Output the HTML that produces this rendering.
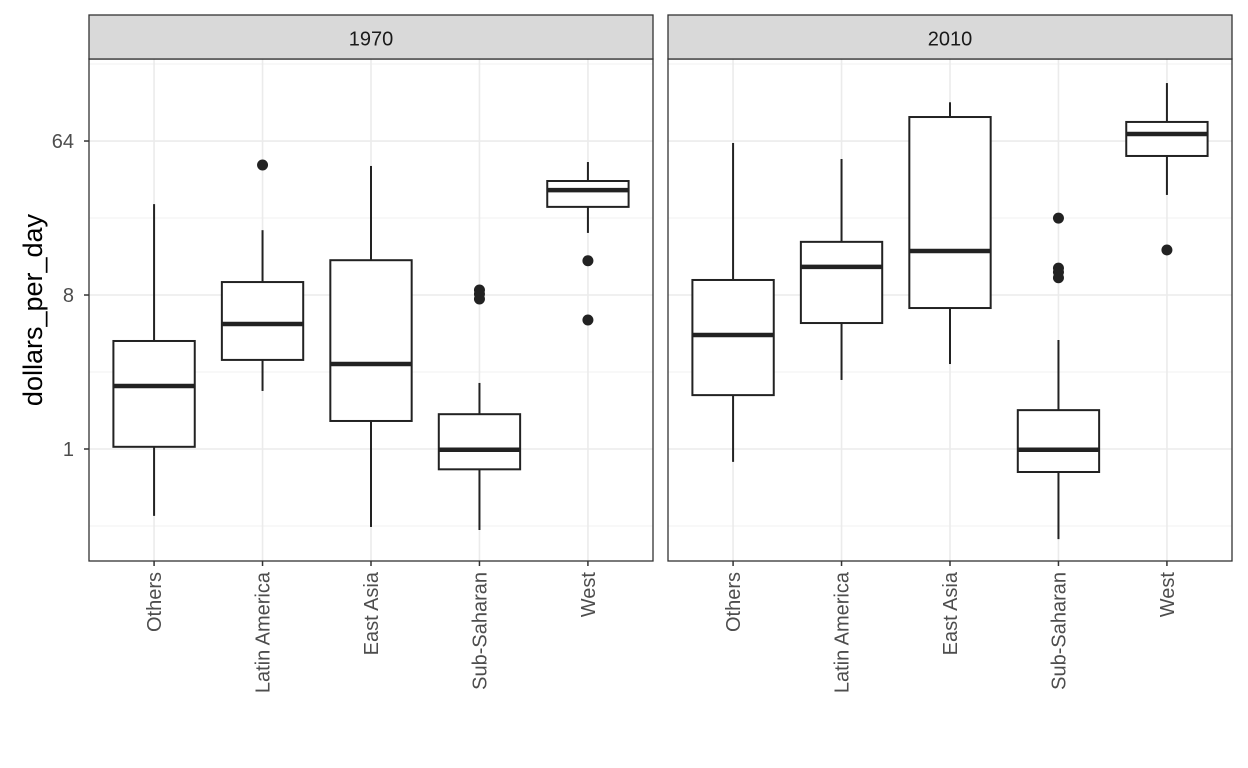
<!DOCTYPE html>
<html><head><meta charset="utf-8"><style>
html,body{margin:0;padding:0;background:#fff;}
svg{display:block;font-family:"Liberation Sans",sans-serif;}
</style></head><body>
<svg id="chart" width="1248" height="768" viewBox="0 0 1248 768" xmlns="http://www.w3.org/2000/svg"></svg>
<script>
const categories = ["Others","Latin America","East Asia","Sub-Saharan","West"];
const panels = ["1970","2010"];
// [whiskerLow, Q1, median, Q3, whiskerHigh] in dollars per day
const stats1970 = [[0.405,1.03,2.34,4.30,27.3],[2.19,3.33,5.41,9.53,19.2],[0.349,1.46,3.15,12.8,45.7],[0.335,0.76,0.99,1.60,2.44],[18.5,26.3,33.0,37.3,48.2]];
const stats2010 = [[0.84,2.07,4.66,9.80,62.3],[2.54,5.48,11.7,16.4,50.2],[3.15,6.71,14.5,88.5,108],[0.296,0.733,0.99,1.69,4.36],[30.9,52.3,70.4,82.8,140]];
const outliers1970 = [[],[46.3],[],[8.56,8.11,7.58],[12.7,5.71]];
const outliers2010 = [[],[],[],[22.6,11.5,10.9,10.1],[14.7]];
const yTicks = [1,8,64];
const yTickLabels = ["1","8","64"];
const yMinor = [Math.pow(2,-1.5),Math.pow(2,1.5),Math.pow(2,4.5),Math.pow(2,7.5)];

const NS="http://www.w3.org/2000/svg";
const svg=document.getElementById('chart');
function mk(tag,attrs,parent,text){const e=document.createElementNS(NS,tag);for(const k in attrs)e.setAttribute(k,attrs[k]);if(text!==undefined)e.textContent=text;(parent||svg).appendChild(e);return e;}
const PT=59,PB=561,K=51.33,Y1=449;
function yScale(v){return Y1-Math.log2(v)*K;}
const panelX=[[89,653],[668,1232]];
function step(p){return (panelX[p][1]-panelX[p][0])/(categories.length-1+1.2);}
function xScale(p,i){return panelX[p][0]+step(p)*(i+0.6);}
const statsAll=[stats1970,stats2010], outAll=[outliers1970,outliers2010];

panels.forEach((pn,p)=>{
  const [x0,x1]=panelX[p];
  const g=mk('g',{});
  
  
  yMinor.forEach(v=>{const l=mk('line',{x1:x0,x2:x1,y1:yScale(v),y2:yScale(v),stroke:'#ebebeb','stroke-width':0.8},g);});
  yTicks.forEach(v=>{const l=mk('line',{x1:x0,x2:x1,y1:yScale(v),y2:yScale(v),stroke:'#ebebeb','stroke-width':1.6},g);});
  categories.forEach((c,i)=>{const l=mk('line',{x1:xScale(p,i),x2:xScale(p,i),y1:PT,y2:PB,stroke:'#ebebeb','stroke-width':1.6},g);});
  const bw=step(p)*0.75;
  categories.forEach((c,i)=>{
    const s=statsAll[p][i], cx=xScale(p,i);
    const bg=mk('g',{},g);
    
    
    mk('line',{x1:cx,x2:cx,y1:yScale(s[0]),y2:yScale(s[1]),stroke:'#222','stroke-width':2},bg);
    mk('line',{x1:cx,x2:cx,y1:yScale(s[3]),y2:yScale(s[4]),stroke:'#222','stroke-width':2},bg);
    mk('rect',{x:cx-bw/2,y:yScale(s[3]),width:bw,height:yScale(s[1])-yScale(s[3]),fill:'#fff',stroke:'#222','stroke-width':2},bg);
    mk('line',{x1:cx-bw/2,x2:cx+bw/2,y1:yScale(s[2]),y2:yScale(s[2]),stroke:'#222','stroke-width':4.5},bg);
    outAll[p][i].forEach(v=>{const o=mk('circle',{cx:cx,cy:yScale(v),r:5.5,fill:'#222'},bg);});
    const tk=mk('line',{x1:cx,x2:cx,y1:PB,y2:PB+5,stroke:'#333','stroke-width':1.5},g);
    
    const t=mk('text',{x:0,y:0,transform:`translate(${cx+7},${PB+11}) rotate(-90)`,'text-anchor':'end','font-size':20,fill:'#4d4d4d'},g,c);
    
  });
  const br=mk('rect',{x:x0,y:PT,width:x1-x0,height:PB-PT,fill:'none',stroke:'#333','stroke-width':1.3},g);
  
  const st=mk('rect',{x:x0,y:15,width:x1-x0,height:PT-15,fill:'#d9d9d9',stroke:'#333','stroke-width':1.3},g);
  
  const stt=mk('text',{x:(x0+x1)/2,y:45.5,'text-anchor':'middle','font-size':20,fill:'#1a1a1a'},g,pn);
  
});
yTicks.forEach((v,i)=>{
  const l=mk('line',{x1:84,x2:89,y1:yScale(v),y2:yScale(v),stroke:'#333','stroke-width':1.5});
  
  const t=mk('text',{x:74,y:yScale(v)+7,'text-anchor':'end','font-size':20,fill:'#4d4d4d'},svg,yTickLabels[i]);
  
});
const yt=mk('text',{x:0,y:0,transform:'translate(42,310) rotate(-90)','text-anchor':'middle','font-size':27,fill:'#000'},svg,'dollars_per_day');

</script>
</body></html>
